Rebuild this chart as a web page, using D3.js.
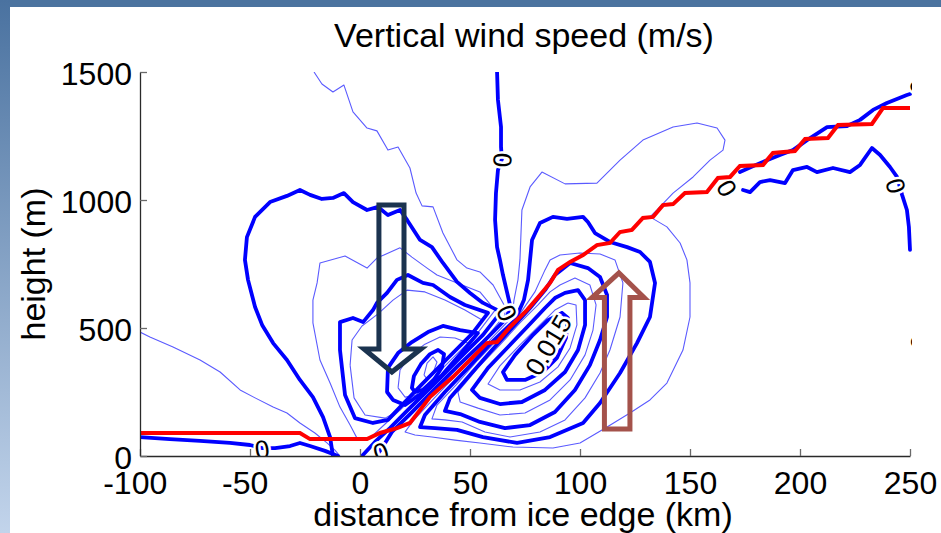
<!DOCTYPE html>
<html>
<head>
<meta charset="utf-8">
<script src="https://cdn.jsdelivr.net/npm/d3@7"></script>
<style>
  body { margin: 0; background: #fff; }
  svg { display: block; }
</style>
</head>
<body>
<svg id="chart" width="941" height="533"></svg>
<script>
// ticks
var xTicks = [-100, -50, 0, 50, 100, 150, 200, 250];
var yTicks = [0, 500, 1000, 1500];

// contour lines: [distance from ice edge (km), height (m)]
// downdraft side
var negThin0 = [[-100,484],[-95.5,465],[-85,426],[-72.7,375],[-63.6,328],[-54.5,258],[-47.7,227],[-39.5,191],[-33.2,168],[-27.3,129],[-20.5,90],[-15,51],[-11.4,23],[-9.1,0]];
var negThinA = [[-20.9,1500],[-17.3,1453],[-12.3,1422],[-7.3,1449],[-3.2,1344],[3.2,1281],[7.7,1270],[12.7,1195],[17.3,1207],[22.7,1125],[25.5,1027],[28.2,977],[33.2,973],[37.7,871],[44.1,766],[48.6,734],[54.5,719],[60.5,668],[65.5,590],[65.9,551],[57.7,465],[46.4,367],[35,270],[23.6,172],[15.9,102],[10,43],[6.8,0]];
var negThick1 = [[-12.3,0],[-13.6,74],[-16.8,152],[-21.4,230],[-27.3,297],[-33.2,375],[-39.5,441],[-44.5,512],[-47.7,582],[-50.9,688],[-52.3,766],[-51.4,855],[-47.7,934],[-40.9,992],[-33.2,1016],[-27.3,1039],[-22.7,1020],[-17.3,1004],[-12.3,1008],[-7.3,1027],[-3.2,992],[3.2,961],[8.2,973],[12.7,941],[18.2,961],[21.4,922],[27.3,844],[32.7,816],[37.7,754],[44.1,680],[50,637],[55.9,598],[64.1,563],[55.9,473],[44.5,375],[33.2,277],[21.8,180],[13.6,109],[6.8,55],[0.9,0]];
var negThin2 = [[-0.9,62],[-4.5,121],[-9.1,191],[-13.6,285],[-18.2,375],[-21.4,520],[-21.4,609],[-19.5,676],[-18.2,754],[-6.8,781],[3.2,734],[7.7,773],[18.2,813],[23.6,777],[30.5,734],[35,707],[44.1,676],[54.5,641],[61.4,570],[53.2,477],[41.8,379],[30.5,281],[19.1,187],[11.4,125],[4.5,70],[-0.9,62]];
var negThick2 = [[-9.1,414],[-9.1,523],[-3.2,539],[1.4,523],[5.9,570],[7.7,598],[12.3,637],[16.8,688],[21.8,707],[28.6,676],[33.2,668],[40.9,621],[47.7,590],[58.2,559],[50.9,477],[39.5,379],[28.2,281],[18.2,191],[12.7,141],[5.9,129],[-2.3,148],[-6.8,238],[-9.1,414]];
var negThin4 = [[-4.5,355],[-3.6,453],[0.9,508],[8.2,555],[15,609],[21.4,648],[29.5,641],[38.6,609],[47.7,570],[55.5,531],[48.2,453],[37.7,363],[27.3,270],[18.2,180],[11.4,148],[2.3,160],[-2.7,227],[-4.5,355]];
var negThick5 = [[12.3,250],[12.7,344],[17.3,402],[23.6,445],[30.9,484],[37.7,508],[45.5,492],[53.6,480],[46.4,406],[37.3,316],[28.2,246],[20.5,199],[15,219],[12.3,250]];
var negThin6 = [[17.3,266],[18.2,336],[22.7,391],[29.5,437],[36.4,465],[43.2,461],[49.1,441],[43.2,375],[35.5,297],[27.3,238],[20.5,230],[17.3,266]];
var negThick7 = [[23.6,266],[24.5,312],[27.7,359],[31.8,398],[35.5,414],[38.2,398],[37.3,348],[33.6,297],[28.6,258],[25,250],[23.6,266]];
var negThin8 = [[29.1,316],[30.5,363],[33.2,387],[35,367],[33.2,324],[30.5,301],[29.1,316]];

// updraft side
var posThin1 = [[69.1,543],[70,609],[71.8,688],[72.7,766],[73.6,961],[77.3,1051],[82.7,1109],[93.2,1063],[107.7,1066],[118.2,1156],[128.6,1234],[142.3,1285],[153.2,1301],[162.3,1281],[165.9,1234],[165,1195],[159.1,1156],[151.4,1090],[142.3,1027],[135,961],[131.8,934],[139.5,895],[145.5,832],[148.6,766],[150,676],[150,543],[146.8,414],[139.5,285],[131.8,219],[122.7,168],[112.3,113],[100,51],[87.7,31],[69.5,35],[54.5,51],[43.2,62],[32.7,74],[25,82],[20.5,94],[24.5,141],[35,238],[45.9,336],[57.3,437],[69.1,543]];
var posThick2 = [[77.3,766],[78.2,844],[81.8,910],[87.7,934],[94.1,926],[101.4,934],[103.6,914],[106.8,871],[113.6,836],[121.4,816],[127.3,797],[131.8,758],[134.1,676],[131.8,543],[125.9,441],[118.2,324],[109.1,207],[101.4,129],[86.4,74],[71.4,51],[55.9,74],[44.1,102],[34.1,109],[27.3,113],[29.5,160],[38.6,250],[49.1,344],[59.5,441],[70.5,531],[74.5,609],[76.4,688],[77.3,766]];
var posThin3 = [[84.1,727],[86.4,766],[90.9,785],[100,793],[109.1,789],[115.9,766],[119.5,676],[118.2,543],[113.6,414],[109.1,324],[102.3,227],[93.2,141],[81.8,94],[68.2,74],[56.8,94],[46.4,133],[38.6,141],[32.7,145],[35,199],[43.6,277],[53.6,375],[63.6,465],[72.7,555],[79.5,641],[84.1,727]];
var posThick4 = [[88.6,707],[95.5,754],[103.6,734],[109.1,699],[112.3,629],[112.3,543],[109.1,453],[104.5,355],[97.7,258],[88.6,172],[77.3,121],[65.9,109],[54.5,133],[45.5,164],[38.6,176],[40.9,227],[50,316],[60,414],[69.1,500],[77.3,578],[84.1,648],[88.6,707]];
var posThin5 = [[90.9,668],[97.7,695],[104.5,668],[107.3,590],[105.9,492],[102.3,395],[95.5,297],[86.4,219],[75,168],[63.6,160],[53.6,187],[45.5,211],[44.5,250],[53.6,344],[63.6,434],[72.7,520],[80.9,590],[86.4,641],[90.9,668]];
var posThick6 = [[93.2,637],[99.1,648],[102.3,609],[102.3,512],[99.1,414],[93.2,328],[84.1,258],[73.6,211],[63.6,203],[54.5,227],[50.9,258],[58.2,344],[67.3,426],[76.4,508],[84.1,578],[88.6,617],[93.2,637]];
var posThin7 = [[94.5,598],[98.2,590],[98.6,512],[95.5,422],[90,348],[81.8,289],[72.7,258],[63.6,258],[58.2,281],[63.6,352],[72.7,434],[81.8,512],[88.6,570],[94.5,598]];
var posThick8 = [[91.8,559],[94.5,539],[93.6,461],[89.5,383],[83.2,328],[75,297],[66.8,297],[65,328],[70.5,395],[78.2,469],[85.5,531],[91.8,559]];

// zero contours
var zeroMain = [[62.3,1500],[62.7,1391],[64.1,1285],[64.1,1207],[64.5,1160],[62.7,1117],[61.8,1027],[61.4,922],[62.3,816],[63.6,766],[65,707],[66.8,641],[68.2,590],[66.8,539],[55.9,445],[44.5,352],[33.6,258],[22.3,160],[14.5,94],[10,31],[7.3,0]];
var zeroLeft = [[-100,74],[-86.4,66],[-72.7,59],[-59.1,51],[-50,43],[-44.5,31],[-38.6,31],[-31.8,39],[-27.3,51],[-22.7,39],[-15.9,20],[-10,0]];
var zeroTop1 = [[172.7,1109],[181.8,1144],[190.9,1176],[196.8,1195],[203.2,1234],[212.3,1285],[221.4,1289],[227.3,1313],[233.2,1352],[239.5,1379],[248.6,1410],[250,1414]];
var zeroTop2 = [[174.1,1039],[177.3,1031],[181.8,1070],[186.4,1078],[193.2,1066],[196.8,1117],[203.2,1129],[207.7,1109],[215,1125],[222.7,1109],[227.3,1137],[232.7,1203],[236.4,1176],[240.9,1129],[244.1,1090],[246.4,1020],[248.6,961],[249.5,895],[250,805]];

var thinLines = [negThin0, negThinA, negThin2, negThin4, negThin6, negThin8, posThin1, posThin3, posThin5, posThin7];
var thickLines = [negThick1, negThick2, negThick5, negThick7, posThick2, posThick4, posThick6, posThick8, zeroMain, zeroLeft, zeroTop1, zeroTop2];

// boundary layer height (red)
var blHeight = [[-100,90],[-27.3,90],[-22.7,66],[3.2,66],[9.1,90],[16.8,109],[22.7,129],[27.3,180],[31.8,230],[36.4,266],[42.3,309],[51.4,387],[57.7,441],[62.3,445],[68.2,504],[75.9,570],[81.8,629],[86.4,676],[90,727],[95.5,758],[101.4,785],[107.7,824],[113.6,832],[118.2,875],[123.6,883],[128.6,930],[133.2,934],[137.7,980],[142.3,984],[147.7,1027],[157.7,1031],[162.7,1086],[168.2,1090],[172.7,1133],[183.2,1137],[187.7,1184],[197.7,1191],[202.3,1238],[212.7,1242],[217.3,1293],[232.7,1297],[237.7,1359],[250,1359]];

// contour labels: km, m, text, rotation
var contourLabels = [
    {km: 64.5, m: 1156, text: "0", angle: -87},
    {km: 66.8, m: 559, text: "0", angle: 65},
    {km: 166.8, m: 1047, text: "0", angle: 60},
    {km: 243.6, m: 1055, text: "0", angle: 75},
    {km: 254.5, m: 1445, text: "0", angle: 80},
    {km: 254.5, m: 445, text: "0", angle: 90},
    {km: -44.5, m: 27, text: "0", angle: -8},
    {km: 9.5, m: 16, text: "0", angle: -20},
    {km: 85.5, m: 434, text: "0.015", angle: -59}
];

// annotation arrows (outline)
var downArrow = [[8.6,980],[20,980],[20,418],[27.7,418],[14.5,328],[1.8,418],[8.6,418]];
var upArrow = [[111.1,105],[122.7,105],[122.7,619],[129.1,619],[117.7,715],[105.5,619],[111.1,619]];

var width = 941, height = 533;
var fontFam = "'Liberation Sans', Arial, sans-serif";

var svg = d3.select("#chart");

var x = d3.scaleLinear().domain([-100, 250]).range([140, 910]);
var y = d3.scaleLinear().domain([0, 1500]).range([456, 72]);

// slide background bands
var defs = svg.append("defs");
var grad = defs.append("linearGradient")
    .attr("id", "sideGrad")
    .attr("x1", 0).attr("y1", 0).attr("x2", 0).attr("y2", 1);
grad.append("stop").attr("offset", "0%").attr("stop-color", "#4a72a0");
grad.append("stop").attr("offset", "100%").attr("stop-color", "#c2d4eb");

defs.append("clipPath")
    .attr("id", "plotClip")
    .append("rect")
    .attr("x", 140).attr("y", 72)
    .attr("width", 772).attr("height", 384);

svg.append("rect")
    .attr("x", 0).attr("y", 0)
    .attr("width", width).attr("height", height)
    .attr("fill", "#fff");

svg.append("rect")
    .attr("x", 0).attr("y", 0)
    .attr("width", width).attr("height", 7)
    .attr("fill", "#4b739f");

svg.append("rect")
    .attr("x", 0).attr("y", 0)
    .attr("width", 10).attr("height", height)
    .attr("fill", "url(#sideGrad)");

var line = d3.line()
    .x(function (d) { return x(d[0]); })
    .y(function (d) { return y(d[1]); });

var plot = svg.append("g").attr("clip-path", "url(#plotClip)");

// thin contours
plot.selectAll("path.thin")
    .data(thinLines)
    .enter()
    .append("path")
    .attr("class", "thin")
    .attr("d", line)
    .attr("fill", "none")
    .attr("stroke", "#5a5aff")
    .attr("stroke-width", 1.1)
    .attr("stroke-linejoin", "round");

// thick contours
plot.selectAll("path.thick")
    .data(thickLines)
    .enter()
    .append("path")
    .attr("class", "thick")
    .attr("d", line)
    .attr("fill", "none")
    .attr("stroke", "#0000ff")
    .attr("stroke-width", 3.8)
    .attr("stroke-linejoin", "round")
    .attr("stroke-linecap", "round");

// contour labels
plot.selectAll("text.clabel")
    .data(contourLabels)
    .enter()
    .append("text")
    .attr("class", "clabel")
    .attr("transform", function (d) {
        return "translate(" + x(d.km) + "," + y(d.m) + ") rotate(" + d.angle + ")";
    })
    .attr("text-anchor", "middle")
    .attr("dy", "0.36em")
    .style("font-family", fontFam)
    .style("font-size", "26px")
    .style("paint-order", "stroke")
    .attr("stroke", "#fff")
    .attr("stroke-width", 5)
    .attr("fill", "#000")
    .text(function (d) { return d.text; });

// boundary layer height
plot.append("path")
    .datum(blHeight)
    .attr("d", line)
    .attr("fill", "none")
    .attr("stroke", "#ff0000")
    .attr("stroke-width", 4)
    .attr("stroke-linejoin", "miter");

// arrows
svg.append("path")
    .datum(downArrow)
    .attr("d", function (d) { return line(d) + "Z"; })
    .attr("fill", "none")
    .attr("stroke", "#1b334f")
    .attr("stroke-width", 5)
    .attr("stroke-linejoin", "miter");

svg.append("path")
    .datum(upArrow)
    .attr("d", function (d) { return line(d) + "Z"; })
    .attr("fill", "none")
    .attr("stroke", "#a4524b")
    .attr("stroke-width", 5)
    .attr("stroke-linejoin", "miter");

// axes, plain integer labels with an ascii minus
var plain = function (d) { return String(d); };

var xAxis = svg.append("g")
    .attr("transform", "translate(0,456)")
    .call(d3.axisBottom(x).tickValues(xTicks).tickFormat(plain)
        .tickSizeInner(-7).tickSizeOuter(0).tickPadding(15));

var yAxis = svg.append("g")
    .attr("transform", "translate(140,0)")
    .call(d3.axisLeft(y).tickValues(yTicks).tickFormat(plain)
        .tickSizeInner(-7).tickSizeOuter(0).tickPadding(8));

[xAxis, yAxis].forEach(function (ax) {
    ax.select(".domain").attr("stroke", "#2a2a2a").attr("stroke-width", 1.3);
    ax.selectAll(".tick line").attr("stroke", "#6a6a6a").attr("stroke-width", 1.3);
    ax.selectAll("text")
        .attr("fill", "#000")
        .style("font-family", fontFam)
        .style("font-size", "32px");
});

// negative labels: digits centred on tick, minus hangs left
xAxis.selectAll(".tick text")
    .attr("dx", function (d) { return d < 0 ? -5.3 : 0; });

yAxis.selectAll(".tick text").attr("dy", "0.4em");

// title and axis labels
svg.append("text")
    .attr("x", 524)
    .attr("y", 47)
    .attr("text-anchor", "middle")
    .style("font-family", fontFam)
    .style("font-size", "34px")
    .text("Vertical wind speed (m/s)");

svg.append("text")
    .attr("x", 523)
    .attr("y", 526)
    .attr("text-anchor", "middle")
    .style("font-family", fontFam)
    .style("font-size", "34px")
    .text("distance from ice edge (km)");

svg.append("text")
    .attr("transform", "translate(45,264) rotate(-90)")
    .attr("text-anchor", "middle")
    .style("font-family", fontFam)
    .style("font-size", "34px")
    .text("height (m)");
</script>
</body>
</html>
